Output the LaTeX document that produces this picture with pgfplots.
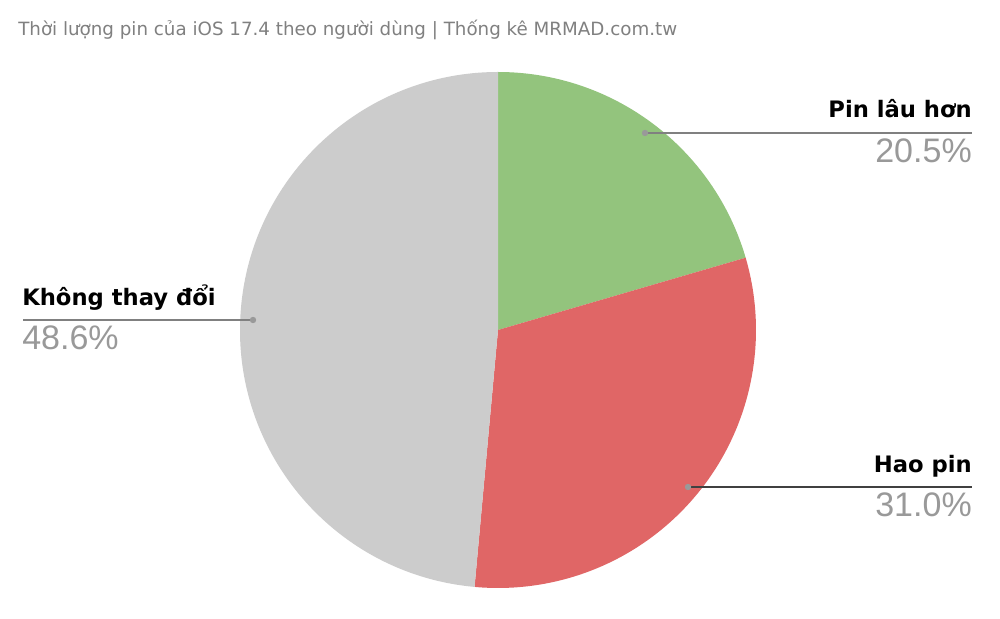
\documentclass[border=0pt]{standalone}
\usepackage{pgfplots}
\usepackage{pgfplotstable}
\pgfplotsset{compat=1.18}
\usepackage{fontspec}
\setmainfont{DejaVu Sans}
\newfontfamily\arial{Liberation Sans}

\definecolor{slgreen}{HTML}{93C47D}
\definecolor{slred}{HTML}{E06666}
\definecolor{slgray}{HTML}{CCCCCC}
\definecolor{pctgray}{HTML}{999999}
\definecolor{titlegray}{HTML}{808080}

% share of users, in percent
\pgfplotstableread{
label value
longer 20.5
drain 31.0
same 48.6
}\pietable

\pgfplotstablegetelem{0}{value}\of\pietable \let\vA\pgfplotsretval
\pgfplotstablegetelem{1}{value}\of\pietable \let\vB\pgfplotsretval
\pgfplotstablegetelem{2}{value}\of\pietable \let\vC\pgfplotsretval
\pgfmathsetmacro\total{\vA+\vB+\vC}
\pgfmathsetmacro\aA{90}
\pgfmathsetmacro\aB{\aA-360*\vA/\total}
\pgfmathsetmacro\aC{\aB-360*\vB/\total}
\pgfmathsetmacro\aD{\aA-360}

\begin{document}
\begin{tikzpicture}
\begin{axis}[
  width=750pt, height=463.5pt, scale only axis,
  xmin=0, xmax=1000, ymin=0, ymax=618,
  hide axis, clip=false,
]
\fill[white] (axis cs:0,0) rectangle (axis cs:1000,618);
% slices, radius 258 px = 193.5pt
\fill[slgreen] (axis cs:498,288) -- ++(\aA:193.5pt) arc[start angle=\aA, end angle=\aB, radius=193.5pt] -- cycle;
\fill[slred] (axis cs:498,288) -- ++(\aB:193.5pt) arc[start angle=\aB, end angle=\aC, radius=193.5pt] -- cycle;
\fill[slgray] (axis cs:498,288) -- ++(\aC:193.5pt) arc[start angle=\aC, end angle=\aD, radius=193.5pt] -- cycle;

% leader lines
\draw[gray, line width=1pt] (axis cs:645,485) -- (axis cs:972,485);
\fill[pctgray] (axis cs:645,485) circle[radius=2.4pt];
\draw[black!75, line width=1pt] (axis cs:688,131) -- (axis cs:972,131);
\fill[pctgray] (axis cs:688,131) circle[radius=2.4pt];
\draw[gray, line width=1pt] (axis cs:23,298) -- (axis cs:253,298);
\fill[pctgray] (axis cs:253,298) circle[radius=2.4pt];

% labels
\node[anchor=base east, inner sep=0pt, font=\bfseries\fontsize{17}{18}\selectfont] at (axis cs:972,500) {Pin lâu hơn};
\node[anchor=base east, inner sep=0pt, text=pctgray, font=\arial\fontsize{25.5}{27}\selectfont] at (axis cs:972,455) {20.5\%};
\node[anchor=base east, inner sep=0pt, font=\bfseries\fontsize{17}{18}\selectfont] at (axis cs:972,145) {Hao pin};
\node[anchor=base east, inner sep=0pt, text=pctgray, font=\arial\fontsize{25.5}{27}\selectfont] at (axis cs:972,101) {31.0\%};
\node[anchor=base west, inner sep=0pt, font=\bfseries\fontsize{17}{18}\selectfont] at (axis cs:22,312) {Không thay đổi};
\node[anchor=base west, inner sep=0pt, text=pctgray, font=\arial\fontsize{25.5}{27}\selectfont] at (axis cs:22,268) {48.6\%};

\node[anchor=base west, inner sep=0pt, text=titlegray, font=\fontsize{13.7}{15}\selectfont] at (axis cs:18,582) {Thời lượng pin của iOS 17.4 theo người dùng | Thống kê MRMAD.com.tw};
\end{axis}
\end{tikzpicture}
\end{document}
